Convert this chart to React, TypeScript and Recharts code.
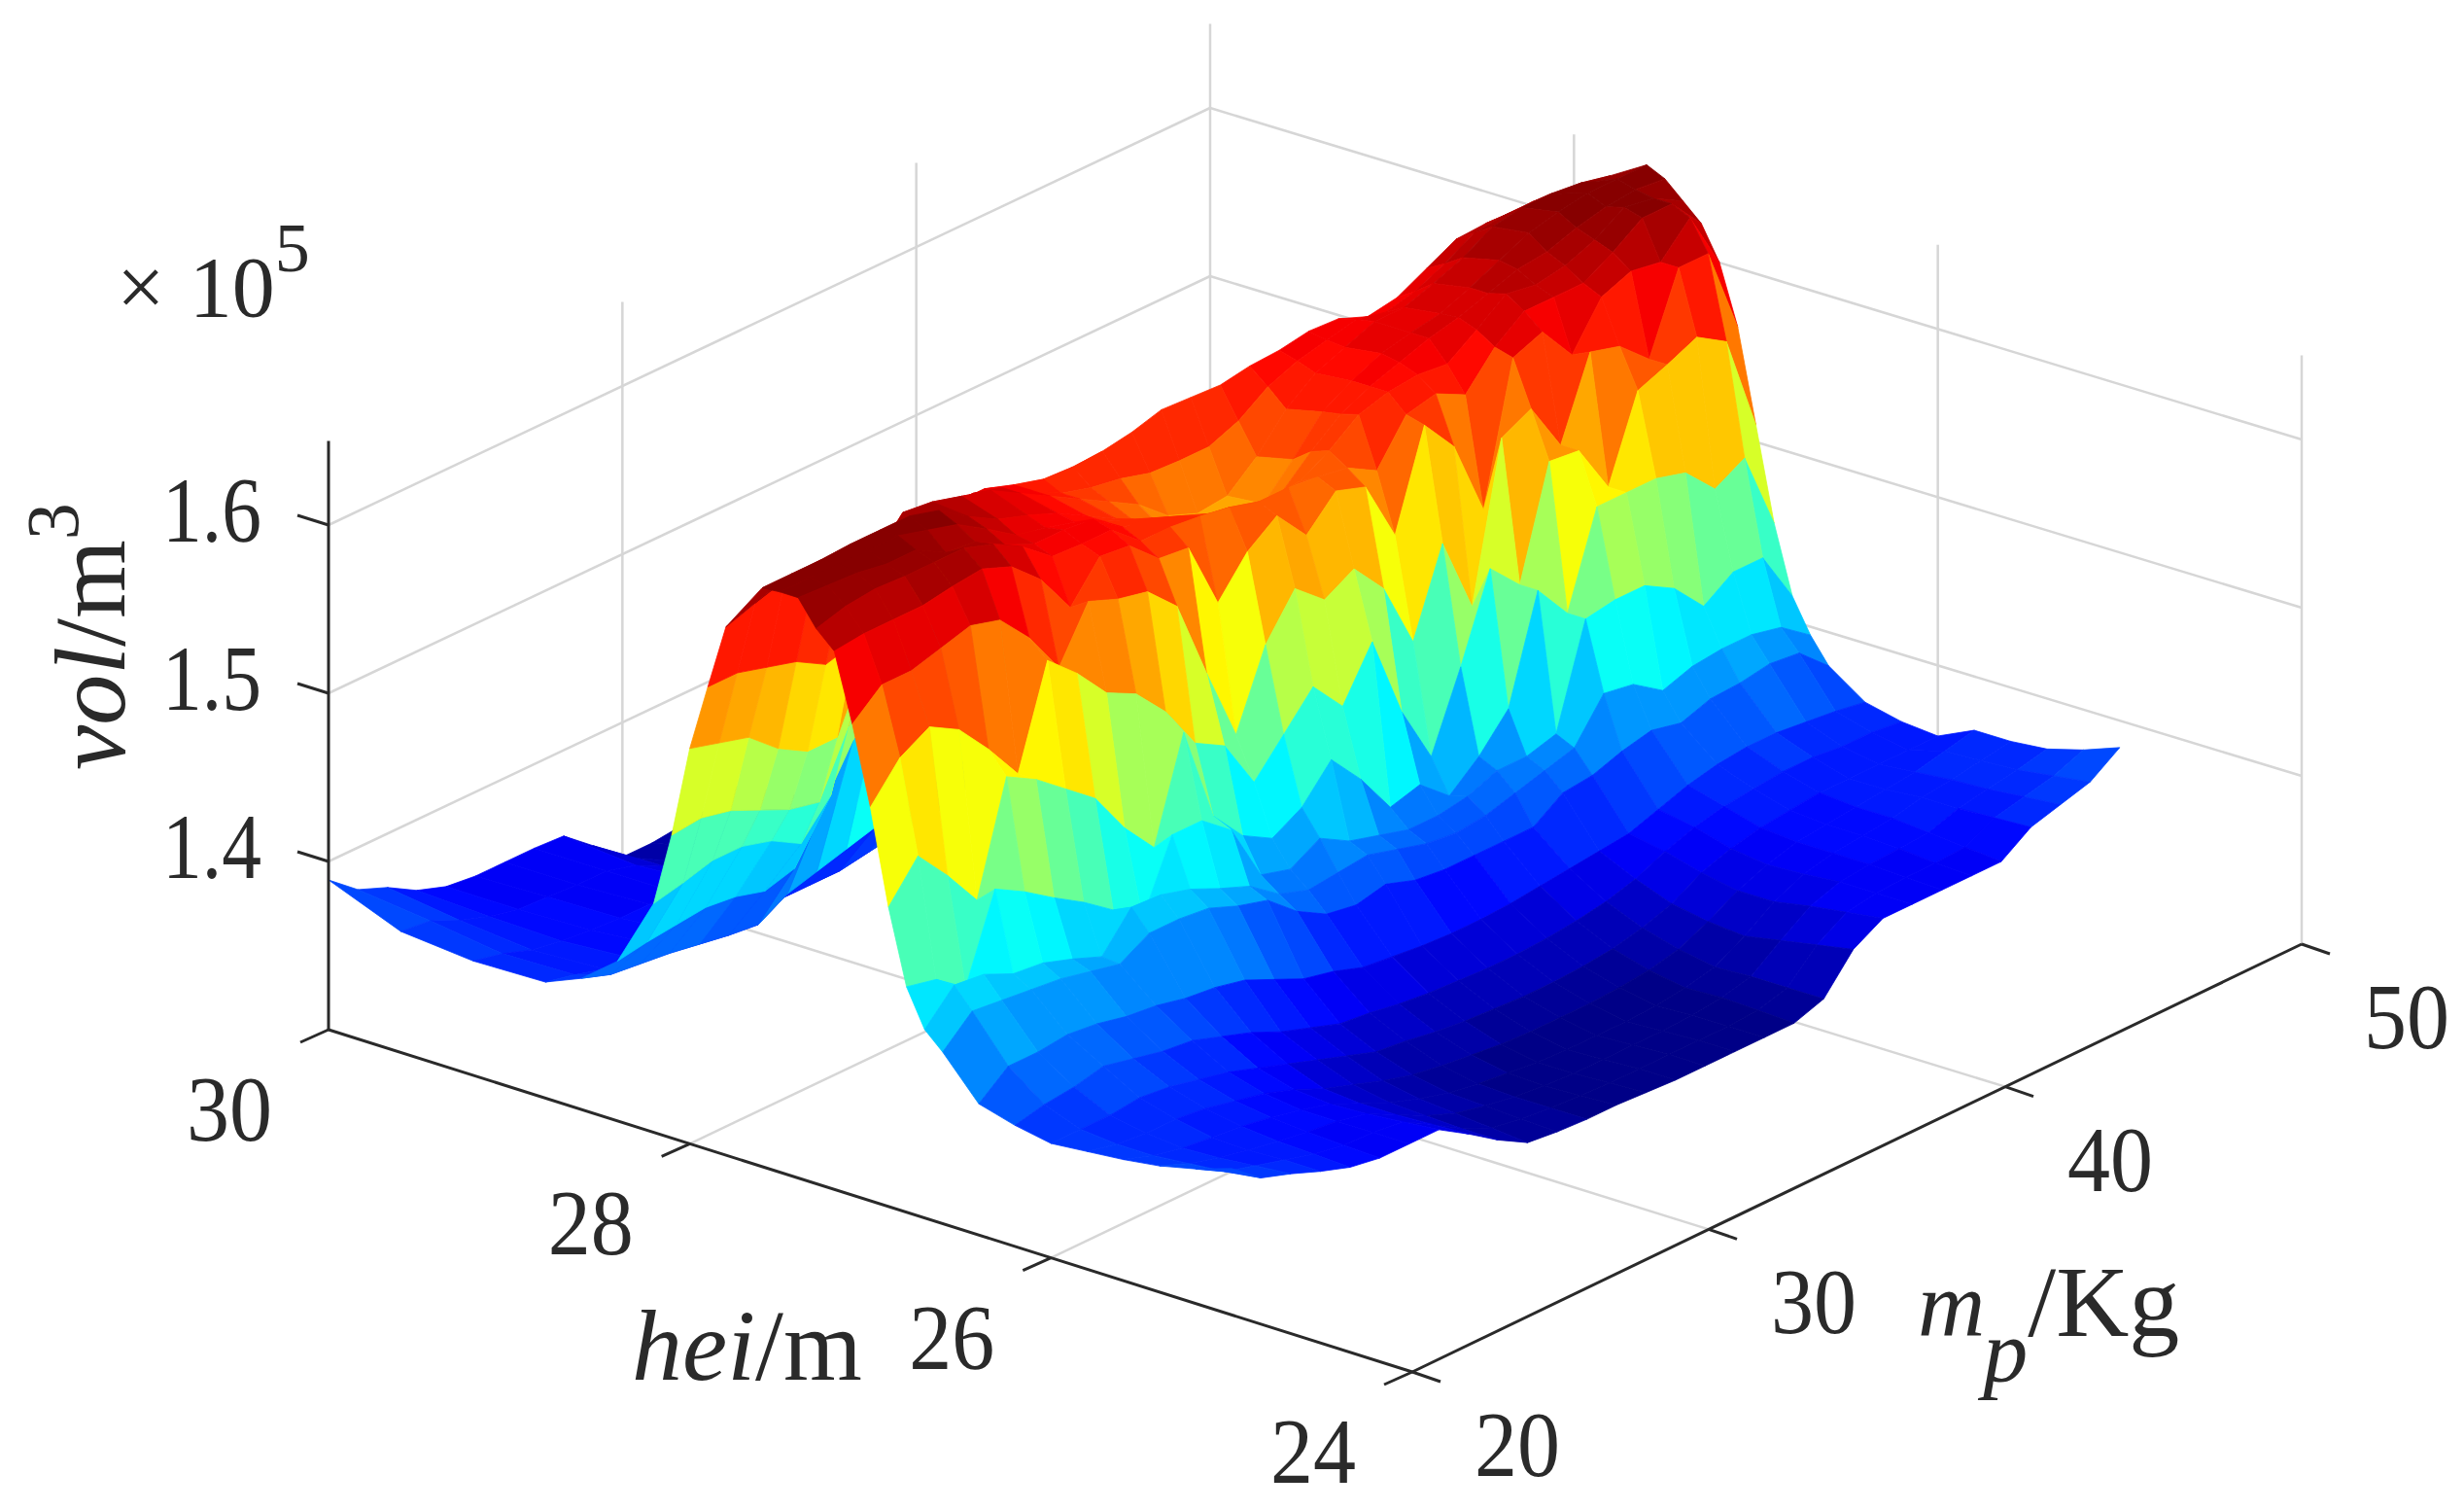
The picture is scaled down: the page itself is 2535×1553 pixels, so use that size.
import React from 'react';
import { ScatterChart, Scatter, XAxis, YAxis } from 'recharts';

// mp columns (Kg)
const mpCols = [20, 21, 22, 23, 24, 25, 26, 27, 28, 29, 30, 31, 32, 33, 34, 35, 36, 37, 38, 39, 40, 41, 42, 43, 44, 45, 46, 47, 48, 49, 50];
// hei rows (m), finer where the wall is steep
const heiRows = [30, 29.6, 29.2, 28.8, 28.6, 28.4, 28.2, 28.1, 28, 27.9, 27.8, 27.6, 27.5, 27.4, 27.3, 27.2, 27.1, 27, 26.9, 26.8, 26.7, 26.6, 26.4, 26.2, 26, 25.8, 25.6, 25.4, 25.2, 25];

// vol in 10^2 m^3 per hei row; the back rows stop where the ridge hides them
const h300 = [1389, 1375, 1368, 1358, 1352, 1350, 1350, 1350, 1349, 1335, 1320, 1320, 1322, 1325, 1330];
const h296 = [1372, 1370, 1362, 1356, 1352, 1351, 1350, 1350, 1345, 1336, 1330, 1330, 1330, 1330, 1335];
const h292 = [1368, 1364, 1358, 1355, 1353, 1352, 1352, 1350, 1348, 1342, 1340, 1340, 1340, 1340, 1340];
const h288 = [1369, 1365, 1360, 1358, 1357, 1356, 1355, 1354, 1352, 1352, 1352, 1355, 1358, 1360, 1360];
const h286 = [1378, 1372, 1370, 1368, 1365, 1362, 1360, 1370, 1375, 1380, 1385, 1390, 1395, 1400, 1400];
const h284 = [1395, 1398, 1400, 1402, 1400, 1395, 1400, 1430, 1460, 1480, 1500, 1510, 1520, 1530, 1530];
const h282 = [1436, 1440, 1445, 1445, 1440, 1430, 1450, 1510, 1540, 1555, 1565, 1570, 1570, 1570, 1570];
const h281 = [1480, 1482, 1478, 1470, 1462, 1458, 1495, 1560, 1575, 1585, 1590, 1590, 1585, 1585, 1585];
const h280 = [1535, 1530, 1525, 1510, 1500, 1500, 1540, 1590, 1600, 1606, 1606, 1600, 1595, 1594, 1595, 1598, 1603, 1602, 1601, 1604, 1605, 1608, 1607, 1600, 1603, 1612, 1621, 1622, 1621, 1620, 1618];
const h279 = [1575, 1575, 1570, 1565, 1555, 1560, 1590, 1615, 1615, 1615, 1610, 1600, 1590, 1585, 1582, 1577, 1576, 1576, 1583, 1595, 1602, 1606, 1610, 1606, 1610, 1618, 1628, 1630, 1630, 1628, 1625];
const h278 = [1614, 1620, 1625, 1620, 1610, 1612, 1632, 1630, 1625, 1620, 1610, 1600, 1590, 1580, 1570, 1555, 1548, 1550, 1565, 1585, 1598, 1605, 1612, 1612, 1618, 1625, 1635, 1638, 1638, 1636, 1632];
const h276 = [1644, 1644, 1644, 1645, 1645, 1645, 1640, 1628, 1618, 1612, 1605, 1595, 1585, 1570, 1555, 1548, 1548, 1552, 1570, 1590, 1600, 1608, 1612, 1615, 1622, 1630, 1638, 1642, 1645, 1645, 1645];
const h275 = [1645, 1645, 1645, 1645, 1645, 1640, 1635, 1624, 1612, 1608, 1603, 1595, 1588, 1575, 1565, 1560, 1558, 1562, 1578, 1592, 1600, 1606, 1612, 1616, 1622, 1628, 1630, 1636, 1640, 1642, 1640];
const h274 = [1645, 1644, 1643, 1640, 1640, 1630, 1628, 1618, 1610, 1610, 1608, 1595, 1592, 1585, 1578, 1572, 1570, 1572, 1582, 1595, 1600, 1602, 1600, 1612, 1625, 1622, 1625, 1632, 1643, 1640, 1630];
const h273 = [1630, 1635, 1637, 1636, 1636, 1636, 1630, 1620, 1606, 1605, 1605, 1590, 1590, 1588, 1585, 1580, 1580, 1578, 1575, 1565, 1590, 1594, 1585, 1605, 1618, 1618, 1618, 1628, 1640, 1640, 1620];
const h272 = [1620, 1622, 1622, 1622, 1625, 1627, 1620, 1604, 1579, 1601, 1599, 1583, 1581, 1540, 1562, 1575, 1555, 1573, 1567, 1530, 1587, 1566, 1520, 1602, 1609, 1587, 1613, 1620, 1617, 1635, 1600];
const h271 = [1580, 1595, 1595, 1600, 1605, 1600, 1581, 1555, 1586, 1579, 1575, 1558, 1510, 1465, 1510, 1535, 1520, 1530, 1510, 1470, 1520, 1474, 1566, 1575, 1545, 1592, 1587, 1571, 1617, 1617, 1565];
const h270 = [1534, 1555, 1565, 1555, 1535, 1512, 1571, 1555, 1535, 1526, 1507, 1480, 1470, 1440, 1460, 1480, 1460, 1490, 1440, 1405, 1450, 1500, 1482, 1547, 1545, 1515, 1564, 1571, 1579, 1568, 1510];
const h269 = [1478, 1500, 1480, 1457, 1522, 1512, 1498, 1484, 1458, 1438, 1498, 1440, 1420, 1410, 1420, 1440, 1420, 1395, 1400, 1385, 1400, 1420, 1482, 1460, 1515, 1515, 1515, 1510, 1492, 1502, 1455];
const h268 = [1434, 1430, 1417, 1467, 1457, 1445, 1434, 1421, 1408, 1449, 1449, 1435, 1400, 1395, 1405, 1395, 1390, 1385, 1385, 1388, 1395, 1395, 1400, 1460, 1463, 1463, 1453, 1434, 1446, 1446, 1415];
const h267 = [1412, 1430, 1428, 1420, 1418, 1412, 1405, 1426, 1425, 1420, 1412, 1405, 1392, 1386, 1388, 1390, 1385, 1380, 1378, 1380, 1385, 1390, 1395, 1419, 1416, 1404, 1410, 1412, 1412, 1408, 1395];
const h266 = [1402, 1418, 1416, 1414, 1412, 1408, 1404, 1414, 1414, 1412, 1405, 1400, 1385, 1375, 1372, 1376, 1370, 1368, 1368, 1368, 1368, 1380, 1382, 1388, 1392, 1388, 1394, 1395, 1398, 1396, 1380];
const h264 = [1378, 1392, 1392, 1394, 1392, 1388, 1386, 1382, 1380, 1376, 1368, 1360, 1356, 1350, 1348, 1346, 1345, 1345, 1346, 1348, 1350, 1352, 1354, 1360, 1366, 1370, 1372, 1372, 1370, 1368, 1365];
const h262 = [1372, 1376, 1378, 1382, 1378, 1374, 1372, 1366, 1360, 1352, 1346, 1340, 1338, 1335, 1333, 1332, 1331, 1331, 1332, 1334, 1337, 1342, 1350, 1356, 1360, 1362, 1364, 1364, 1362, 1362, 1360];
const h260 = [1368, 1368, 1368, 1370, 1368, 1364, 1360, 1354, 1348, 1342, 1336, 1330, 1328, 1325, 1323, 1322, 1321, 1321, 1322, 1324, 1328, 1334, 1344, 1350, 1354, 1356, 1358, 1358, 1358, 1358, 1358];
const h258 = [1370, 1366, 1364, 1364, 1362, 1358, 1354, 1348, 1340, 1334, 1328, 1323, 1320, 1318, 1316, 1315, 1315, 1315, 1316, 1318, 1322, 1330, 1340, 1347, 1352, 1354, 1356, 1358, 1360, 1364, 1368];
const h256 = [1372, 1366, 1362, 1360, 1358, 1355, 1351, 1346, 1338, 1330, 1324, 1319, 1316, 1314, 1312, 1311, 1311, 1311, 1312, 1314, 1318, 1328, 1340, 1348, 1352, 1354, 1356, 1360, 1362, 1365, 1368];
const h254 = [1375, 1368, 1363, 1359, 1356, 1353, 1351, 1347, 1338, 1329, 1322, 1318, 1315, 1313, 1312, 1312, 1312, 1312, 1313, 1315, 1319, 1332, 1344, 1350, 1352, 1353, 1354, 1360, 1363, 1366, 1370];
const h252 = [1380, 1370, 1365, 1360, 1355, 1352, 1351, 1349, 1339, 1328, 1320, 1317, 1315, 1314, 1313, 1313, 1313, 1313, 1313, 1314, 1319, 1336, 1347, 1350, 1351, 1351, 1352, 1361, 1365, 1369, 1376];
const h250 = [1387, 1373, 1367, 1360, 1354, 1351, 1351, 1351, 1340, 1328, 1318, 1316, 1315, 1315, 1314, 1313, 1313, 1313, 1313, 1313, 1319, 1340, 1350, 1350, 1350, 1350, 1350, 1362, 1367, 1372, 1384];
const volRows = [h300, h296, h292, h288, h286, h284, h282, h281, h280, h279, h278, h276, h275, h274, h273, h272, h271, h270, h269, h268, h267, h266, h264, h262, h260, h258, h256, h254, h252, h250];

const heiTicks = [30, 28, 26, 24];
const mpTicks = [20, 30, 40, 50];
const volTicks = [1.4, 1.5, 1.6];

const W = 2535;
const H = 1553;
const VOL_MIN = 1.3;
const VOL_MAX = 1.65;
const C_MIN = 1.31;
const C_MAX = 1.645;
const SERIF = '"Liberation Serif", "Times New Roman", serif';
const INK = '#2a2a2a';

// view of the MATLAB box: floor corners on the page and px per unit of vol
const cornerL = [338, 1059];
const cornerB = [1453, 1411];
const cornerR = [2368, 971];
const cornerK = [1245, 630];
const volPx = 1730;

const project = (mp: number, hei: number, vol: number) => {
  const u = (mp - 20) / 30;
  const v = (hei - 24) / 6;
  const pick = (i: number) =>
    cornerB[i] * (1 - u) * (1 - v) + cornerR[i] * u * (1 - v) + cornerL[i] * (1 - u) * v + cornerK[i] * u * v;
  return { x: pick(0), y: pick(1) - (vol - VOL_MIN) * volPx };
};

// MATLAB jet with 64 levels
const jet = (vol: number) => {
  const t = Math.min(1, Math.max(0, (vol - C_MIN) / (C_MAX - C_MIN)));
  const k = (Math.min(63, Math.floor(t * 64)) + 0.5) / 64;
  const ch = (o: number) => Math.round(255 * Math.min(1, Math.max(0, 1.5 - Math.abs(4 * k - o))));
  return `rgb(${ch(3)},${ch(2)},${ch(1)})`;
};

// facets back to front, the viewer sits at low hei and low mp
const facetPoints: { x: number; y: number }[] = [];
const facetColors: string[] = [];
for (let r = 0; r < heiRows.length - 1; r++) {
  for (let c = mpCols.length - 2; c >= 0; c--) {
    const a = volRows[r][c];
    const b = volRows[r][c + 1];
    const d = volRows[r + 1][c + 1];
    const e = volRows[r + 1][c];
    if (a === undefined || b === undefined || d === undefined || e === undefined) continue;
    facetPoints.push(
      project(mpCols[c], heiRows[r], a / 1000),
      project(mpCols[c + 1], heiRows[r], b / 1000),
      project(mpCols[c + 1], heiRows[r + 1], d / 1000),
      project(mpCols[c], heiRows[r + 1], e / 1000),
    );
    facetColors.push(jet((a + b + d + e) / 4000));
  }
}

const gridPoints: { x: number; y: number }[] = [];
const seg = (list: { x: number; y: number }[], p: { x: number; y: number }, q: { x: number; y: number }) => list.push(p, q);
volTicks.forEach((v) => {
  seg(gridPoints, project(20, 30, v), project(50, 30, v));
  seg(gridPoints, project(50, 30, v), project(50, 24, v));
});
[30, 40, 50].forEach((m) => seg(gridPoints, project(m, 30, VOL_MIN), project(m, 30, VOL_MAX)));
[28, 26, 24].forEach((h) => seg(gridPoints, project(50, h, VOL_MIN), project(50, h, VOL_MAX)));
[28, 26].forEach((h) => seg(gridPoints, project(20, h, VOL_MIN), project(50, h, VOL_MIN)));
[30, 40].forEach((m) => seg(gridPoints, project(m, 24, VOL_MIN), project(m, 30, VOL_MIN)));

const axisPoints: { x: number; y: number }[] = [];
seg(axisPoints, project(20, 30, VOL_MIN), project(20, 30, VOL_MAX));
seg(axisPoints, project(20, 30, VOL_MIN), project(20, 24, VOL_MIN));
seg(axisPoints, project(20, 24, VOL_MIN), project(50, 24, VOL_MIN));
heiTicks.forEach((h) => {
  const p = project(20, h, VOL_MIN);
  seg(axisPoints, p, { x: p.x - 29, y: p.y + 13 });
});
mpTicks.forEach((m) => {
  const p = project(m, 24, VOL_MIN);
  seg(axisPoints, p, { x: p.x + 29, y: p.y + 10 });
});
volTicks.forEach((v) => {
  const p = project(20, 30, v);
  seg(axisPoints, p, { x: p.x - 32, y: p.y - 10 });
});

const heiLabels = heiTicks.map((h) => ({ ...project(20, h, VOL_MIN), text: String(h), dx: -102, dy: 114 }));
const mpLabels = mpTicks.map((m) => ({ ...project(m, 24, VOL_MIN), text: String(m), dx: 108, dy: 107 }));
const volLabels = volTicks.map((v) => ({ ...project(20, 30, v), text: v.toFixed(1), dx: -120, dy: 17 }));
const tickLabels = [...heiLabels, ...mpLabels, ...volLabels];

const noDot = () => <g />;

const segments = (stroke: string, width: number) => (props: any) => {
  const pts = props.points as { x: number; y: number }[];
  const out = [];
  for (let i = 0; i + 1 < pts.length; i += 2) {
    out.push(<line key={i} x1={pts[i].x} y1={pts[i].y} x2={pts[i + 1].x} y2={pts[i + 1].y} stroke={stroke} strokeWidth={width} />);
  }
  return <g>{out}</g>;
};

const facets = (props: any) => {
  const pts = props.points as { x: number; y: number }[];
  const out = [];
  for (let i = 0; i + 3 < pts.length; i += 4) {
    const col = facetColors[i / 4];
    const d = `${pts[i].x},${pts[i].y} ${pts[i + 1].x},${pts[i + 1].y} ${pts[i + 2].x},${pts[i + 2].y} ${pts[i + 3].x},${pts[i + 3].y}`;
    out.push(<polygon key={i} points={d} fill={col} stroke={col} strokeWidth={0.8} strokeLinejoin="round" />);
  }
  return <g>{out}</g>;
};

const tickText = (props: any) => (
  <text
    x={props.cx + props.payload.dx}
    y={props.cy + props.payload.dy}
    textAnchor="middle"
    fontFamily={SERIF}
    fontSize={96}
    fill={INK}
    textLength={props.payload.text.length === 3 ? 102 : 88}
    lengthAdjust="spacingAndGlyphs"
  >
    {props.payload.text}
  </text>
);

export default function App() {
  return (
    <div style={{ position: 'absolute', left: 0, top: 0, width: W, height: H, background: '#fff' }}>
      <ScatterChart width={W} height={H} margin={{ top: 0, right: 0, bottom: 0, left: 0 }}>
        <XAxis type="number" dataKey="x" domain={[0, W]} hide />
        <YAxis type="number" dataKey="y" domain={[0, H]} reversed hide />
        <Scatter data={gridPoints} shape={noDot} line={segments('#d6d6d6', 2.5)} isAnimationActive={false} />
        <Scatter data={facetPoints} shape={noDot} line={facets} isAnimationActive={false} />
        <Scatter data={axisPoints} shape={noDot} line={segments(INK, 3)} isAnimationActive={false} />
        <Scatter data={tickLabels} shape={tickText} isAnimationActive={false} />
        <text x={650} y={1419} fontFamily={SERIF} fontSize={104} fill={INK}>
          <tspan fontStyle="italic">hei</tspan>/m
        </text>
        <text x={1973} y={1374} fontFamily={SERIF} fontSize={96} fontStyle="italic" fill={INK}>
          m<tspan dy={47} dx={-2} fontSize={92}>p</tspan>
          <tspan dy={-47} dx={0} fontSize={104} fontStyle="normal">/Kg</tspan>
        </text>
        <text transform="translate(128,792) rotate(-90)" fontFamily={SERIF} fontSize={104} fill={INK}>
          <tspan fontStyle="italic">vol</tspan>/m<tspan dy={-48} fontSize={76}>3</tspan>
        </text>
        <text x={120} y={325} fontFamily={SERIF} fontSize={88} fill={INK}>
          ×<tspan dx={25}>10</tspan>
          <tspan dy={-46} fontSize={72}>5</tspan>
        </text>
      </ScatterChart>
    </div>
  );
}
